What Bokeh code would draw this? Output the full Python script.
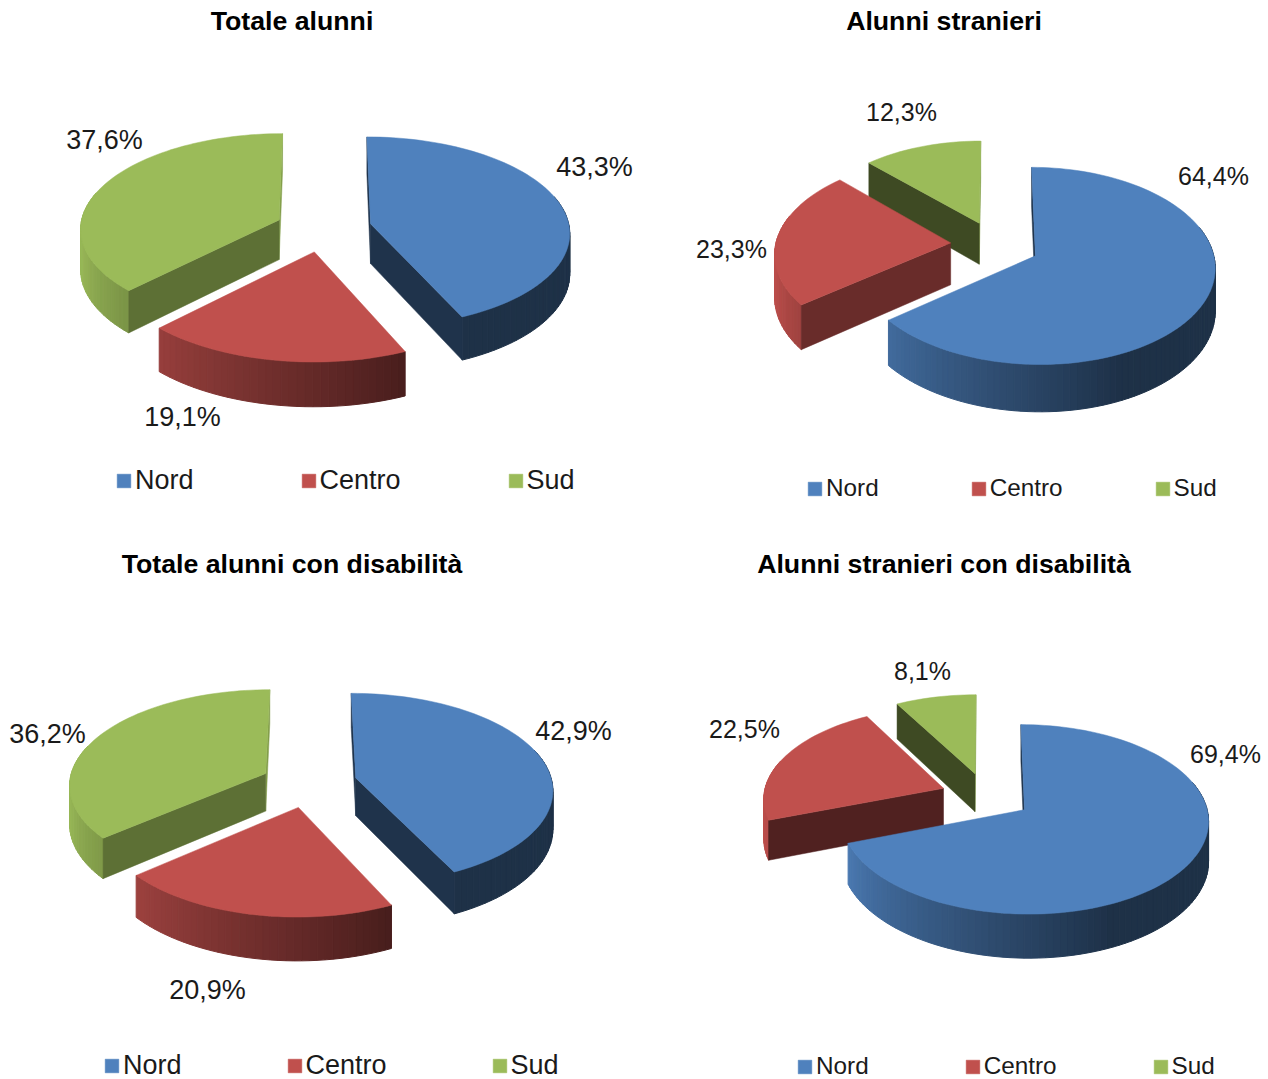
import math
from bokeh.embed import file_html
from bokeh.resources import INLINE
from bokeh.plotting import figure
from bokeh.layouts import column, row
from bokeh.models import Range1d, Legend, LegendItem
from bokeh.core.properties import value

categories = ["Nord", "Centro", "Sud"]
titles = ["Totale alunni", "Alunni stranieri", "Totale alunni con disabilità", "Alunni stranieri con disabilità"]
totale_alunni = [43.3, 19.1, 37.6]
alunni_stranieri = [64.4, 23.3, 12.3]
totale_disabili = [42.9, 20.9, 36.2]
stranieri_disabili = [69.4, 22.5, 8.1]
series = [totale_alunni, alunni_stranieri, totale_disabili, stranieri_disabili]

TOP = [(79, 129, 189), (192, 80, 77), (155, 187, 89)]
FONT = "Liberation Sans"

# style / layout per chart; adj = per-slice (dx, dy, radius scale)
layouts = [
    dict(frame=(0, 634, 0, 540), cx=323, cy=228, rx=199, ry=95, k=0.085, e=0.24, d=40,
         title_x=291.5, title_y=20, fs=27, legfs=27,
         lab=[(594, 166), (182, 416), (104, 139)],
         wall=[0.40, 0.5, 0.60], back=[0.40, 0.5, 0.85], leg=(115, 479, 17), leg_sp=106,
         adj=[(0.5, 0, 1), (-0.5, 0.5, 1.015), (-0.5, 0, 1)]),
    dict(frame=(634, 1268, 0, 540), cx=996, cy=245, rx=175, ry=94.6, k=0.10, e=0.26, d=42,
         title_x=943.5, title_y=20, fs=25, legfs=24.3,
         lab=[(1213, 175), (731, 248), (901, 111)],
         wall=[0.40, 0.55, 0.40], back=[0.40, 0.5, 0.85], leg=(806, 487, 15), leg_sp=91,
         adj=[(-2.5, -0.5, 1.008), (-0.5, -1, 1), (-0.5, 0, 1)]),
    dict(frame=(0, 634, 540, 1079), cx=310, cy=783, rx=196.5, ry=95, k=0.11, e=0.24, d=38,
         title_x=291.5, title_y=563, fs=27, legfs=27,
         lab=[(573, 730), (207, 989), (47, 733)],
         wall=[0.40, 0.5, 0.60], back=[0.40, 0.5, 0.85], leg=(103, 1065, 16), leg_sp=104,
         adj=[(-0.5, -0.5, 1), (-2, 1, 0.975), (-2.5, -0.5, 1)]),
    dict(frame=(634, 1268, 540, 1079), cx=986.5, cy=796, rx=180, ry=91, k=0.10, e=0.26, d=39,
         title_x=943.5, title_y=563, fs=25, legfs=24.3,
         lab=[(1225, 753), (744, 728), (922, 670)],
         wall=[0.40, 0.42, 0.40], back=[0.40, 0.5, 0.85], leg=(796, 1067, 13), leg_sp=95,
         adj=[(-1.5, -0.5, 1), (0, 0, 1), (-0.5, -0.5, 1)]),
]


def rgb(base, b):
    return "#%02x%02x%02x" % tuple(min(255, int(c * b)) for c in base)


def side_shade(t):
    return min(0.98, 0.38 + max(0.0, t - 156) / 100 * 0.6)


def make(vals, title, L):
    x0, x1, y0, y1 = L["frame"]
    p = figure(width=x1 - x0, height=y1 - y0, x_range=Range1d(x0, x1), y_range=Range1d(y1, y0),
               output_backend="svg", toolbar_location=None, min_border=0)
    p.axis.visible = False
    p.grid.visible = False
    p.outline_line_color = None

    total = sum(vals)
    bounds = [0.0]
    for v in vals:
        bounds.append(bounds[-1] + v / total * 360)
    bounds[-1] = 360.0

    order = []
    for i in range(3):
        mid = math.radians((bounds[i] + bounds[i + 1]) / 2)
        order.append((L["e"] * math.cos(mid), i))
    order.sort(reverse=True)

    tops = {}
    for _, i in order:
        a, b = bounds[i], bounds[i + 1]
        mid = math.radians((a + b) / 2)
        au, av = L["e"] * math.sin(mid), L["e"] * math.cos(mid)
        dx, dy, sc = L["adj"][i]

        def proj(u, v, drop=0.0):
            w = 1 + L["k"] * v
            return L["cx"] + dx + L["rx"] * u / w, L["cy"] + dy - L["ry"] * v / w + drop / w

        n = max(2, int((b - a) / 2))
        ths = [a + (b - a) * j / n for j in range(n + 1)]

        def pt(t, drop=0.0):
            return proj(au + sc * math.sin(math.radians(t)), av + sc * math.cos(math.radians(t)), drop)

        # outer wall strips, back to front; back arc is hidden behind the top face
        strips = [j for j in range(n) if 72 <= (ths[j] + ths[j + 1]) / 2 <= 288]
        strips.sort(key=lambda j: math.cos(math.radians(ths[j])), reverse=True)
        xs, ys, cs = [], [], []
        for j in strips:
            t0, t1 = ths[j], ths[j + 1]
            q = [pt(t0), pt(t1), pt(t1, L["d"]), pt(t0, L["d"])]
            xs.append([c[0] for c in q])
            ys.append([c[1] for c in q])
            cs.append(rgb(TOP[i], side_shade((t0 + t1) / 2)))
        if xs:
            p.patches(xs, ys, fill_color=cs, line_color=cs, line_width=1)
        # cut faces
        ap, ad = proj(au, av), proj(au, av, L["d"])
        walls = []
        if a == 0:
            walls.append((a, L["back"][i]))
        if b == 360:
            walls.append((b, L["back"][i]))
        if math.sin(math.radians(a)) < -1e-6:
            walls.append((a, L["wall"][i]))
        if math.sin(math.radians(b)) > 1e-6:
            walls.append((b, L["wall"][i]))
        for t, sh in walls:
            q = [ap, pt(t), pt(t, L["d"]), ad]
            col = rgb(TOP[i], sh)
            p.patch([c[0] for c in q], [c[1] for c in q], fill_color=col, line_color=col, line_width=0.5)
        # top face
        outline = [ap] + [pt(t) for t in ths]
        col = rgb(TOP[i], 1)
        tops[i] = p.patch([c[0] for c in outline], [c[1] for c in outline], fill_color=col, line_color=col, line_width=0.5)

    # texts
    p.text([L["title_x"]], [L["title_y"]], text=[title], text_font=value(FONT), text_font_style="bold",
           text_font_size="26.7px", text_align="center", text_baseline="middle", text_color="#000000")
    labels = [f"{v:.1f}".replace(".", ",") + "%" for v in vals]
    p.text([c[0] for c in L["lab"]], [c[1] for c in L["lab"]], text=labels, text_font=value(FONT),
           text_font_size=f'{L["fs"]}px', text_align="center", text_baseline="middle", text_color="#1a1a1a")

    lx, ly, off = L["leg"]
    legend = Legend(items=[LegendItem(label=categories[i], renderers=[tops[i]]) for i in range(3)],
                    orientation="horizontal", location=(lx - x0, y1 - ly - off), spacing=L["leg_sp"],
                    glyph_width=17, glyph_height=17, label_standoff=3, padding=0, margin=0,
                    background_fill_alpha=0, border_line_color=None,
                    label_text_font=FONT, label_text_font_size=f'{L["legfs"]}px', label_text_color="#1a1a1a",
                    label_text_baseline="middle", label_height=20)
    p.add_layout(legend, "center")
    return p


figs = [make(series[i], titles[i], layouts[i]) for i in range(4)]
page = column(row(figs[0], figs[1]), row(figs[2], figs[3]))
open("out.html", "w").write(file_html(page, INLINE))
